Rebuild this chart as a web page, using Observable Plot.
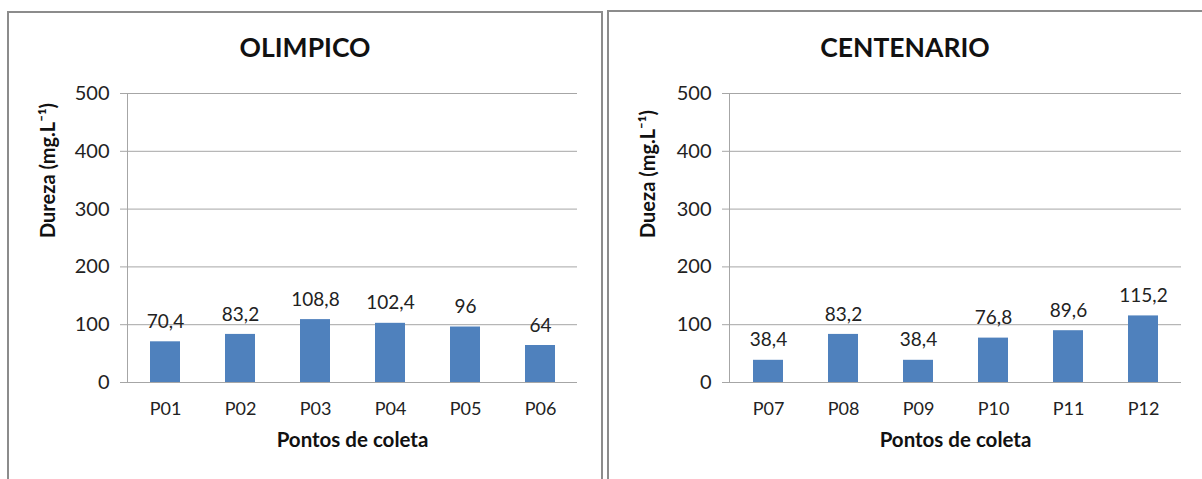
<!DOCTYPE html>
<html>
<head>
<meta charset="utf-8">
<script src="https://cdn.jsdelivr.net/npm/d3@7"></script>
<script src="https://cdn.jsdelivr.net/npm/@observablehq/plot@0.6"></script>
<style>
  html, body { margin: 0; padding: 0; background: #fff; }
  #page { position: relative; width: 1202px; height: 479px; overflow: hidden; font-family: Lato, "Open Sans", sans-serif; }
  .panel { position: absolute; box-sizing: border-box; border-color: #8c8c8c; border-style: solid; }
  .title { position: absolute; top: 29px; font-weight: bold; font-size: 26.5px; color: #111; text-align: center; line-height: 36px; }
  .plot { position: absolute; top: 60px; }
</style>
</head>
<body>
<div id="page">
  <div class="panel" style="left:7px;top:11px;width:596px;height:500px;border-width:2px 2px 0 2px;"></div>
  <div class="panel" style="left:607px;top:10px;width:700px;height:500px;border-width:2px 0 0 2px;"></div>
  <div class="title" id="t1" style="left:7px;width:596px;"></div>
  <div class="title" id="t2" style="left:607px;width:596px;"></div>
  <div class="plot" id="p1" style="left:0px;"></div>
  <div class="plot" id="p2" style="left:600px;"></div>
</div>
<script>
const tituloOlimpico = "OLIMPICO";
const pontosOlimpico = ["P01", "P02", "P03", "P04", "P05", "P06"];
const durezaOlimpico = [70.4, 83.2, 108.8, 102.4, 96, 64];
const rotuloYOlimpico = "Dureza (mg.L⁻¹)";

const tituloCentenario = "CENTENARIO";
const pontosCentenario = ["P07", "P08", "P09", "P10", "P11", "P12"];
const durezaCentenario = [38.4, 83.2, 38.4, 76.8, 89.6, 115.2];
const rotuloYCentenario = "Dueza (mg.L⁻¹)";

const rotuloX = "Pontos de coleta";
const yTicks = [0, 100, 200, 300, 400, 500];

const fmt = v => String(v).replace(".", ",");

function chart(pontos, valores, rotuloY, marginLeft, marginRight) {
  const data = pontos.map((p, i) => ({ponto: p, valor: valores[i]}));
  return Plot.plot({
    width: 600,
    height: 420,
    marginTop: 33,
    marginBottom: 98,
    marginLeft: marginLeft,
    marginRight: marginRight,
    style: {fontFamily: "Lato, 'Open Sans', sans-serif", background: "transparent", color: "#222"},
    x: {domain: pontos, paddingInner: 0.6, paddingOuter: 0.3},
    y: {domain: [0, 500]},
    marks: [
      Plot.gridY(yTicks, {stroke: "#a6a6a6", strokeOpacity: 1}),
      Plot.axisY({ticks: yTicks, tickSize: 7, tickPadding: 11, stroke: "#a6a6a6", fill: "#222", fontSize: 20, label: null}),
      Plot.axisX({tickSize: 0, tickPadding: 20, fontSize: 18, fill: "#222", label: null}),
      Plot.frame({anchor: "left", stroke: "#a6a6a6"}),
      Plot.barY(data, {x: "ponto", y: "valor", fill: "#4f81bd"}),
      Plot.text(data, {x: "ponto", y: "valor", text: d => fmt(d.valor), dy: -20, fontSize: 19, fill: "#222"}),
      Plot.text([rotuloX], {frameAnchor: "bottom", dy: 64, text: d => d, fontSize: 20.5, fontWeight: "bold", fill: "#111"}),
      Plot.text([rotuloY], {frameAnchor: "left", dx: -(marginLeft - 48), rotate: -90, text: d => d, fontSize: 20, fontWeight: "bold", fill: "#111"})
    ]
  });
}

document.getElementById("t1").textContent = tituloOlimpico;
document.getElementById("t2").textContent = tituloCentenario;
document.getElementById("p1").appendChild(chart(pontosOlimpico, durezaOlimpico, rotuloYOlimpico, 127, 23));
document.getElementById("p2").appendChild(chart(pontosCentenario, durezaCentenario, rotuloYCentenario, 129, 19));
</script>
</body>
</html>
